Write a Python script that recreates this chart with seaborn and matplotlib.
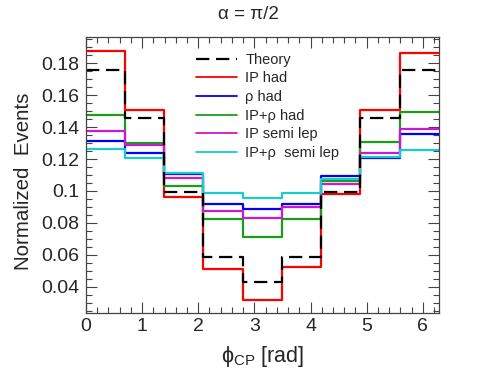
import numpy as np
import pandas as pd
import matplotlib
matplotlib.use("Agg")
import matplotlib.pyplot as plt
from matplotlib.ticker import MultipleLocator, FuncFormatter
from matplotlib.lines import Line2D
import seaborn as sns

sns.set_style("ticks")
plt.rcParams['font.family'] = ['Liberation Sans', 'DejaVu Sans']
plt.rcParams['mathtext.fontset'] = 'custom'
plt.rcParams['mathtext.rm'] = 'Liberation Sans'
plt.rcParams['mathtext.it'] = 'Liberation Sans:italic'

n_bins = 9
edges = np.linspace(0, 2 * np.pi, n_bins + 1)
centers = 0.5 * (edges[:-1] + edges[1:])

labels = ["Theory", "IP had", "\u03c1 had", "IP+\u03c1 had", "IP semi lep", "IP+\u03c1  semi lep"]
theory      = [0.1758, 0.1457, 0.0995, 0.0588, 0.0431, 0.0588, 0.0995, 0.1457, 0.1758]
ip_had      = [0.1877, 0.1507, 0.0960, 0.0509, 0.0316, 0.0525, 0.0978, 0.1507, 0.1863]
rho_had     = [0.1315, 0.1238, 0.1105, 0.0918, 0.0885, 0.0918, 0.1093, 0.1204, 0.1357]
iprho_had   = [0.1474, 0.1298, 0.1033, 0.0824, 0.0713, 0.0822, 0.1065, 0.1309, 0.1493]
ip_semi     = [0.1377, 0.1288, 0.1083, 0.0876, 0.0828, 0.0901, 0.1043, 0.1240, 0.1390]
iprho_semi  = [0.1265, 0.1204, 0.1110, 0.0985, 0.0957, 0.0985, 0.1077, 0.1211, 0.1256]

series = [theory, ip_had, rho_had, iprho_had, ip_semi, iprho_semi]
colors = ["black", "#ff0000", "#0000ff", "#1a9e1a", "#cc19cc", "#19cccc"]
styles = [(0, (6, 3)), "-", "-", "-", "-", "-"]

fig = plt.figure(figsize=(4.88, 3.8), dpi=100)
ax = fig.add_axes([0.176, 0.1755, 0.723, 0.7263])

draw_order = [1, 2, 3, 4, 5, 0]
for i in draw_order:
    df = pd.DataFrame({"x": centers, "w": series[i]})
    sns.histplot(data=df, x="x", weights="w", bins=list(edges), element="step",
                 fill=False, color=colors[i], linewidth=1.6,
                 linestyle=styles[i], ax=ax)

ax.set_xlim(0, 2 * np.pi)
ax.set_ylim(0.0233, 0.1963)

ax.xaxis.set_major_locator(MultipleLocator(1))
ax.xaxis.set_minor_locator(MultipleLocator(0.2))
ax.yaxis.set_major_locator(MultipleLocator(0.02))
ax.yaxis.set_minor_locator(MultipleLocator(0.005))
ax.yaxis.set_major_formatter(FuncFormatter(lambda v, p: "%g" % round(v, 3)))
ax.tick_params(which="both", direction="in", top=True, right=True, labelsize=14, color="#444444")
ax.tick_params(which="major", length=8, width=0.8)
ax.tick_params(which="minor", length=4, width=0.8)
ax.tick_params(axis="y", pad=5)
for s in ax.spines.values():
    s.set_linewidth(0.9)
    s.set_color("#444444")

ax.set_xlabel("\u03d5$_{\\rm CP}$ [rad]", fontsize=15.5, labelpad=6)
ax.set_ylabel("Normalized  Events", fontsize=14.8)
ax.yaxis.set_label_coords(-0.15, 0.479)
fig.text(0.51, 0.963, "\u03b1 = \u03c0/2", ha="center", va="center", fontsize=13.5)

handles = [Line2D([], [], color=colors[i], linestyle=styles[i], linewidth=1.6 if i == 0 else 1.3) for i in range(6)]
leg = ax.legend(handles, labels, loc="upper left", bbox_to_anchor=(0.295, 0.965),
                frameon=False, fontsize=10.5, handlelength=2.8, handletextpad=0.6,
                labelspacing=0.32, borderaxespad=0)

fig.savefig("out.png", dpi=100)
